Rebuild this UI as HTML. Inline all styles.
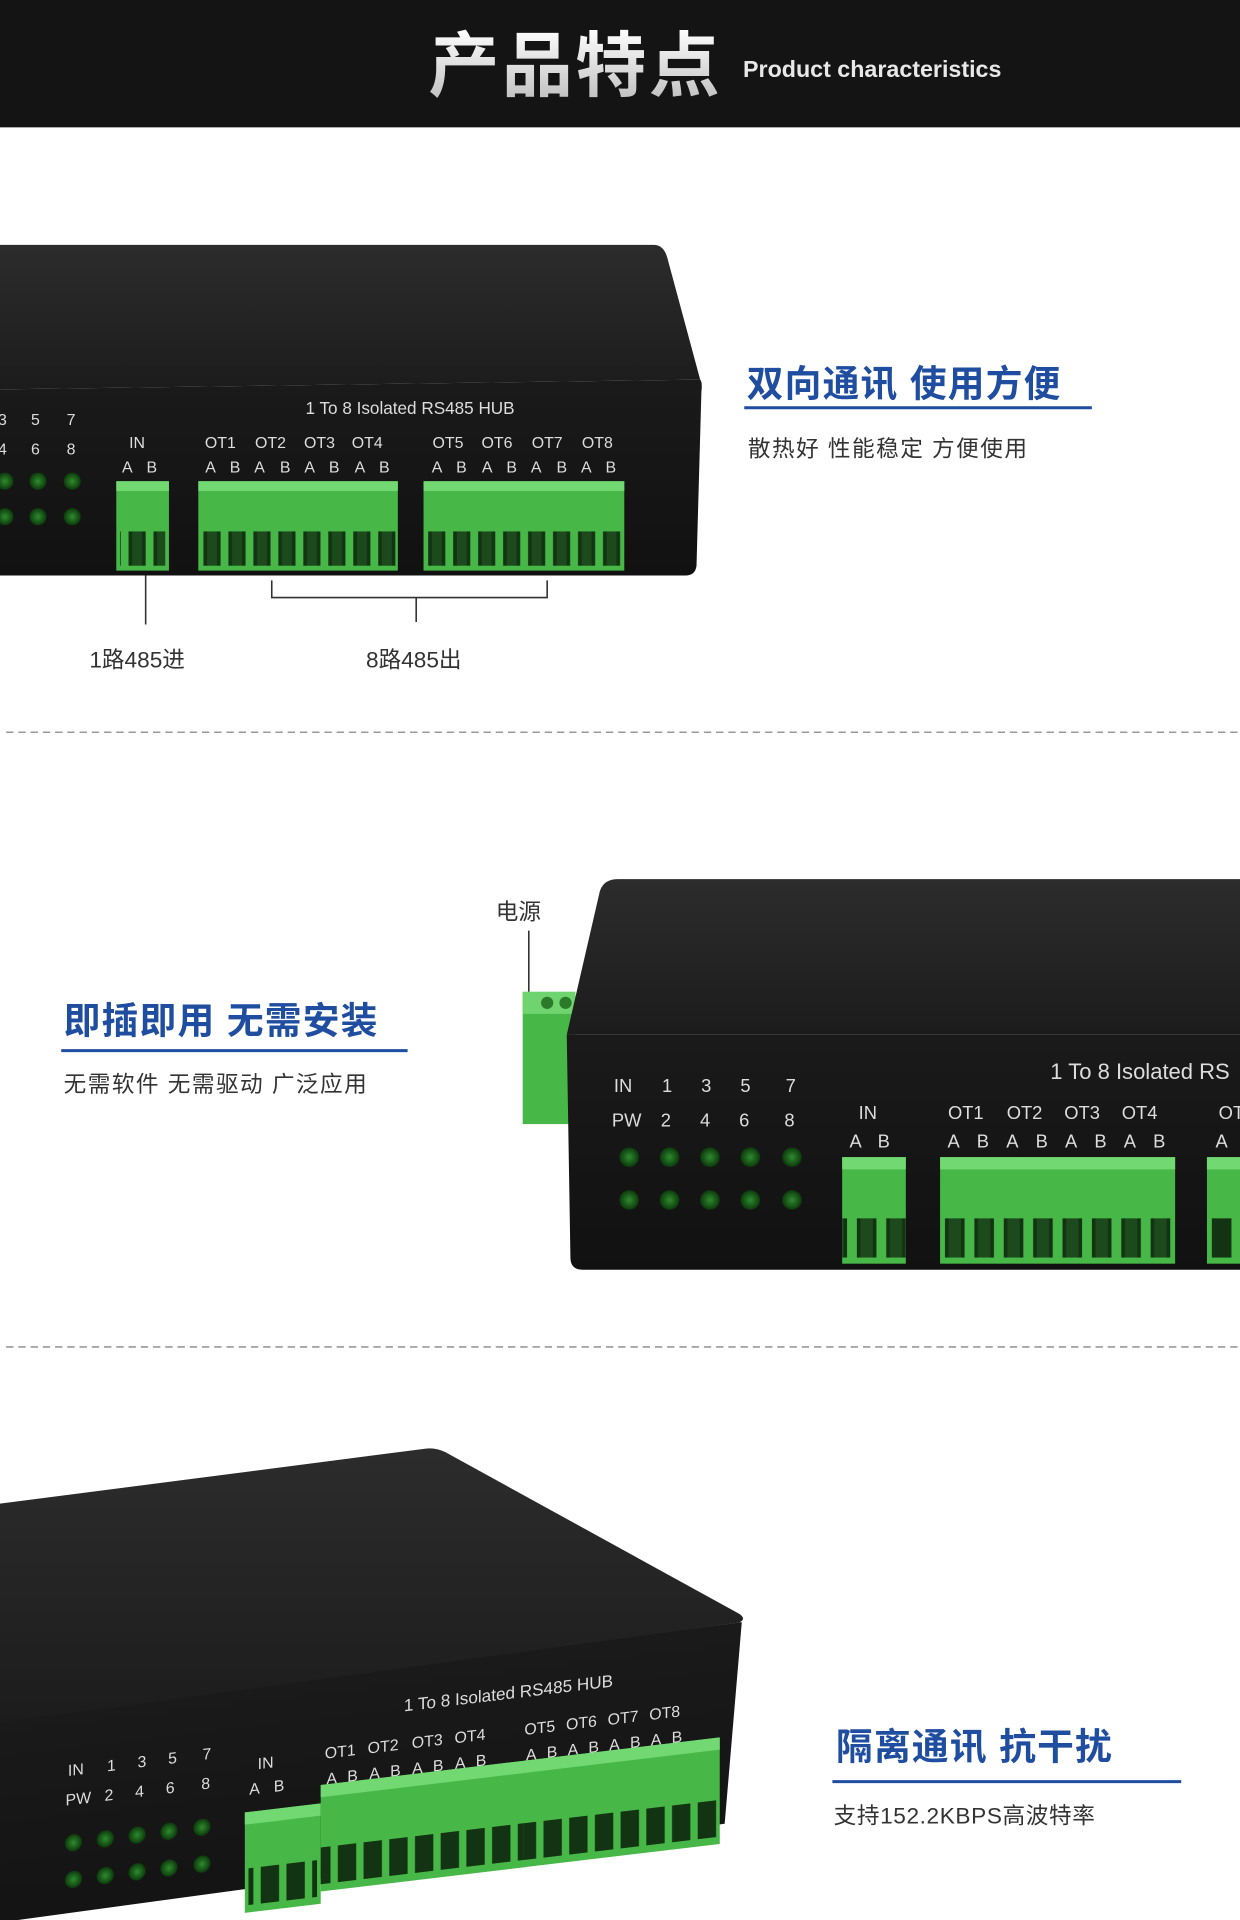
<!DOCTYPE html>
<html><head><meta charset="utf-8"><style>
html,body{margin:0;padding:0;background:#fff;}
svg{display:block;}
text{font-family:"Liberation Sans","Noto Sans CJK SC",sans-serif;}
</style></head><body>
<svg width="1240" height="1920" viewBox="0 0 1013 1568" preserveAspectRatio="none" xmlns="http://www.w3.org/2000/svg">
<defs>
<linearGradient id="hdr" x1="0" y1="0" x2="0" y2="1"><stop offset="0" stop-color="#fff"/><stop offset="1" stop-color="#bbb"/></linearGradient>
<linearGradient id="top1" x1="0" y1="0" x2="0" y2="1"><stop offset="0" stop-color="#2c2c2c"/><stop offset="1" stop-color="#1c1c1c"/></linearGradient>
<linearGradient id="front" x1="0" y1="0" x2="0" y2="1"><stop offset="0" stop-color="#1a1a1a"/><stop offset="1" stop-color="#111"/></linearGradient>
<radialGradient id="led"><stop offset="0" stop-color="#2f8a2f"/><stop offset="1" stop-color="#0c3a0c"/></radialGradient>
<pattern id="s1" patternUnits="userSpaceOnUse" x="0" y="0" width="20.4" height="200"><rect x="3" y="0" width="14" height="200" fill="#123412"/><rect x="6" y="0" width="8" height="200" fill="#1c4a1c"/></pattern>
<pattern id="s2" patternUnits="userSpaceOnUse" x="0" y="0" width="24" height="200"><rect x="4" y="0" width="16" height="200" fill="#123412"/><rect x="7" y="0" width="10" height="200" fill="#1c4a1c"/></pattern>
<pattern id="s3" patternUnits="userSpaceOnUse" x="0" y="0" width="21" height="200"><rect x="3" y="0" width="15" height="200" fill="#123412"/></pattern>
</defs>

<rect x="0" y="0" width="1013" height="104" fill="#141414"/>
<text x="350" y="74" font-size="58" font-weight="bold" fill="url(#hdr)" letter-spacing="2">产品特点</text>
<text x="607" y="63" font-size="19" font-weight="bold" fill="#e8e8e8">Product characteristics</text>

<path d="M0 200 L534 200 Q542 200 545 210 L572 310 L0 318 Z" fill="url(#top1)"/>
<path d="M0 318 L572 310 Q574 312 573 320 L569 462 Q568 470 560 470 L0 470 Z" fill="url(#front)"/>
<text x="335" y="338" font-size="14" fill="#ddd" text-anchor="middle">1 To 8 Isolated RS485 HUB</text>
<g font-size="13" fill="#ddd" text-anchor="middle">
<text x="2" y="347">3</text><text x="29" y="347">5</text><text x="58" y="347">7</text>
<text x="2" y="371">4</text><text x="29" y="371">6</text><text x="58" y="371">8</text>
<text x="112" y="366">IN</text><text x="104" y="386">A</text><text x="124" y="386">B</text>
<text x="180" y="366">OT1</text><text x="221" y="366">OT2</text><text x="261" y="366">OT3</text><text x="300" y="366">OT4</text>
<text x="366" y="366">OT5</text><text x="406" y="366">OT6</text><text x="447" y="366">OT7</text><text x="488" y="366">OT8</text>
<text x="172" y="386">A</text><text x="192" y="386">B</text><text x="212" y="386">A</text><text x="233" y="386">B</text><text x="253" y="386">A</text><text x="273" y="386">B</text><text x="294" y="386">A</text><text x="314" y="386">B</text>
<text x="357" y="386">A</text><text x="377" y="386">B</text><text x="398" y="386">A</text><text x="418" y="386">B</text><text x="438" y="386">A</text><text x="459" y="386">B</text><text x="479" y="386">A</text><text x="499" y="386">B</text>
</g>
<g fill="url(#led)"><circle cx="4" cy="393" r="7"/><circle cx="31" cy="393" r="7"/><circle cx="59" cy="393" r="7"/><circle cx="4" cy="422" r="7"/><circle cx="31" cy="422" r="7"/><circle cx="59" cy="422" r="7"/></g>
<g>
<rect x="95" y="393" width="43" height="73" fill="#47b847"/><rect x="95" y="393" width="43" height="8" fill="#72d872"/>
<rect x="98" y="434" width="37" height="28" fill="url(#s1)"/>
<rect x="162" y="393" width="163" height="73" fill="#47b847"/><rect x="162" y="393" width="163" height="8" fill="#72d872"/>
<rect x="162" y="434" width="163" height="28" fill="url(#s1)"/>
<rect x="346" y="393" width="164" height="73" fill="#47b847"/><rect x="346" y="393" width="164" height="8" fill="#72d872"/>
<rect x="346" y="434" width="164" height="28" fill="url(#s1)"/>
</g>
<g stroke="#333" stroke-width="1.3" fill="none">
<line x1="119" y1="470" x2="119" y2="510"/>
<polyline points="222,474 222,488 447,488 447,474"/>
<line x1="340" y1="488" x2="340" y2="508"/>
</g>
<text x="73" y="545" font-size="18.5" fill="#333">1路485进</text>
<text x="299" y="545" font-size="18.5" fill="#333">8路485出</text>

<text x="610" y="324" font-size="30" font-weight="bold" fill="#1f4da0" letter-spacing="1">双向通讯 使用方便</text>
<line x1="608" y1="333" x2="892" y2="333" stroke="#1f4da0" stroke-width="2.5"/>
<text x="611" y="373" font-size="18.5" fill="#333" letter-spacing="1.2">散热好 性能稳定 方便使用</text>

<line x1="5" y1="598" x2="1013" y2="598" stroke="#999" stroke-width="1.3" stroke-dasharray="6,4"/>

<text x="52" y="844" font-size="30" font-weight="bold" fill="#1f4da0" letter-spacing="1">即插即用 无需安装</text>
<line x1="50" y1="858" x2="333" y2="858" stroke="#1f4da0" stroke-width="2.5"/>
<text x="52" y="892" font-size="18.5" fill="#333" letter-spacing="1.2">无需软件 无需驱动 广泛应用</text>
<text x="405" y="751" font-size="18.5" fill="#333">电源</text>
<line x1="432" y1="760" x2="432" y2="810" stroke="#333" stroke-width="1.3"/>
<rect x="427" y="810" width="43" height="108" fill="#47b847"/><rect x="427" y="810" width="43" height="18" fill="#6fd46f"/>
<circle cx="447" cy="819" r="5" fill="#2a7a2a"/><circle cx="462" cy="819" r="5" fill="#2a7a2a"/>
<path d="M463 845 L490 728 Q493 718 505 718 L1013 718 L1013 845 Z" fill="url(#top1)"/>
<path d="M463 845 L1013 845 L1013 1037 L476 1037 Q466 1037 466 1027 Z" fill="url(#front)"/>
<text x="858" y="881" font-size="18" fill="#ddd">1 To 8 Isolated RS</text>
<g font-size="15" fill="#ddd" text-anchor="middle">
<text x="509" y="892">IN</text><text x="545" y="892">1</text><text x="577" y="892">3</text><text x="609" y="892">5</text><text x="646" y="892">7</text>
<text x="512" y="920">PW</text><text x="544" y="920">2</text><text x="576" y="920">4</text><text x="608" y="920">6</text><text x="645" y="920">8</text>
<text x="709" y="914">IN</text><text x="699" y="937">A</text><text x="722" y="937">B</text>
<text x="789" y="914">OT1</text><text x="837" y="914">OT2</text><text x="884" y="914">OT3</text><text x="931" y="914">OT4</text><text x="1006" y="914">OT</text>
<text x="779" y="937">A</text><text x="803" y="937">B</text><text x="827" y="937">A</text><text x="851" y="937">B</text><text x="875" y="937">A</text><text x="899" y="937">B</text><text x="923" y="937">A</text><text x="947" y="937">B</text><text x="998" y="937">A</text>
</g>
<g fill="url(#led)">
<circle cx="514" cy="945" r="8"/><circle cx="547" cy="945" r="8"/><circle cx="580" cy="945" r="8"/><circle cx="613" cy="945" r="8"/><circle cx="647" cy="945" r="8"/>
<circle cx="514" cy="980" r="8"/><circle cx="547" cy="980" r="8"/><circle cx="580" cy="980" r="8"/><circle cx="613" cy="980" r="8"/><circle cx="647" cy="980" r="8"/>
</g>
<rect x="688" y="945" width="52" height="87" fill="#47b847"/><rect x="688" y="945" width="52" height="10" fill="#72d872"/>
<rect x="688" y="995" width="52" height="32" fill="url(#s2)"/>
<rect x="768" y="945" width="192" height="87" fill="#47b847"/><rect x="768" y="945" width="192" height="10" fill="#72d872"/>
<rect x="768" y="995" width="192" height="32" fill="url(#s2)"/>
<rect x="986" y="945" width="27" height="87" fill="#47b847"/><rect x="986" y="945" width="27" height="10" fill="#72d872"/>
<rect x="990" y="995" width="16" height="32" fill="#123412"/>

<line x1="5" y1="1100" x2="1013" y2="1100" stroke="#999" stroke-width="1.3" stroke-dasharray="6,4"/>

<path d="M0 1228 L348 1183 Q356 1182 364 1186 L604 1318 Q610 1322 604 1325 L0 1410 Z" fill="url(#top1)"/>
<g transform="skewY(-6.8)">
<path d="M0 1407 L606 1397 L592 1560 L0 1570 L0 1640 Z" fill="url(#front)"/>
<text x="330" y="1437" font-size="14" fill="#ddd">1 To 8 Isolated RS485 HUB</text>
<g font-size="13" fill="#ddd" text-anchor="middle">
<text x="62" y="1457">IN</text><text x="91" y="1457">1</text><text x="116" y="1457">3</text><text x="141" y="1457">5</text><text x="169" y="1457">7</text>
<text x="64" y="1481">PW</text><text x="89" y="1481">2</text><text x="114" y="1481">4</text><text x="139" y="1481">6</text><text x="168" y="1481">8</text>
<text x="217" y="1470">IN</text><text x="208" y="1490">A</text><text x="228" y="1490">B</text>
<text x="278" y="1468">OT1</text><text x="313" y="1468">OT2</text><text x="349" y="1468">OT3</text><text x="384" y="1468">OT4</text>
<text x="441" y="1468">OT5</text><text x="475" y="1468">OT6</text><text x="509" y="1468">OT7</text><text x="543" y="1468">OT8</text>
<text x="271" y="1489">A</text><text x="288" y="1489">B</text><text x="306" y="1489">A</text><text x="323" y="1489">B</text><text x="341" y="1489">A</text><text x="358" y="1489">B</text><text x="376" y="1489">A</text><text x="393" y="1489">B</text>
<text x="434" y="1489">A</text><text x="451" y="1489">B</text><text x="468" y="1489">A</text><text x="485" y="1489">B</text><text x="502" y="1489">A</text><text x="519" y="1489">B</text><text x="536" y="1489">A</text><text x="553" y="1489">B</text>
</g>
<g fill="url(#led)">
<circle cx="60" cy="1512" r="7"/><circle cx="86" cy="1512" r="7"/><circle cx="112" cy="1512" r="7"/><circle cx="138" cy="1512" r="7"/><circle cx="165" cy="1512" r="7"/>
<circle cx="60" cy="1542" r="7"/><circle cx="86" cy="1542" r="7"/><circle cx="112" cy="1542" r="7"/><circle cx="138" cy="1542" r="7"/><circle cx="165" cy="1542" r="7"/>
</g>
<rect x="200" y="1504" width="62" height="82" fill="#47b847"/><rect x="200" y="1504" width="62" height="10" fill="#72d872"/>
<rect x="203" y="1550" width="56" height="30" fill="url(#s3)"/>
<rect x="262" y="1489" width="168" height="87" fill="#47b847"/><rect x="262" y="1489" width="168" height="10" fill="#72d872"/>
<rect x="262" y="1540" width="168" height="30" fill="url(#s3)"/>
<rect x="428" y="1489" width="160" height="87" fill="#47b847"/><rect x="428" y="1489" width="160" height="10" fill="#72d872"/>
<rect x="428" y="1540" width="160" height="30" fill="url(#s3)"/>
</g>

<text x="683" y="1437" font-size="30" font-weight="bold" fill="#1f4da0" letter-spacing="1">隔离通讯 抗干扰</text>
<line x1="680" y1="1455" x2="965" y2="1455" stroke="#1f4da0" stroke-width="2.5"/>
<text x="681" y="1489" font-size="18.5" fill="#333" letter-spacing="0.5">支持152.2KBPS高波特率</text>
</svg>
</body></html>
